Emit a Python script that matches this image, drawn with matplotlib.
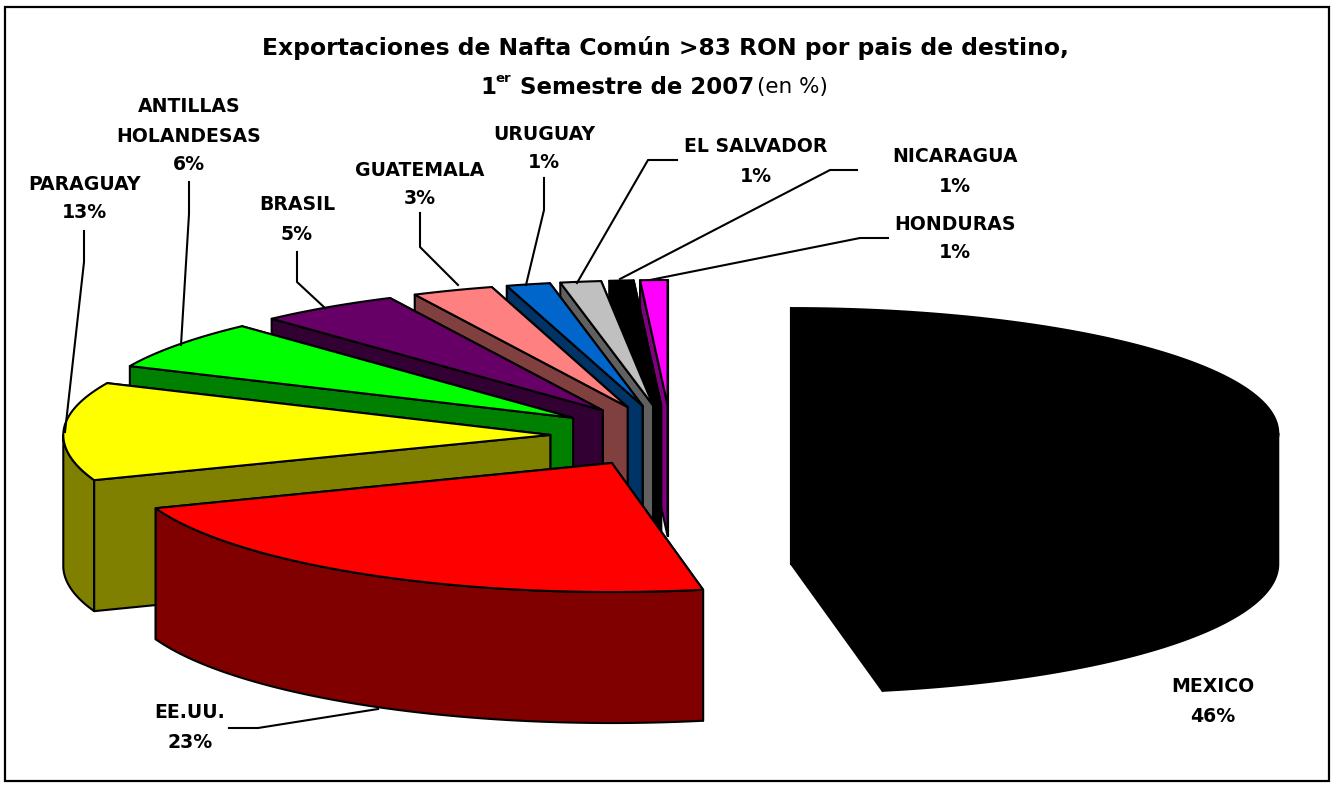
"""
Exportaciones de Nafta Comun por pais de destino: exploded 3D-look pie.
Slices are projected by hand because matplotlib has no tilted pie.
"""

import numpy as np
import matplotlib.pyplot as plt

FONT = "DejaVu Sans"

names = ["MEXICO", "EE.UU.", "PARAGUAY", "ANTILLAS\nHOLANDESAS", "BRASIL",
         "GUATEMALA", "URUGUAY", "EL SALVADOR", "NICARAGUA", "HONDURAS"]
# printed percentages
labels_pct = [46, 23, 13, 6, 5, 3, 1, 1, 1, 1]
# unrounded shares
shares = [47.0, 22.3, 12.5, 6.3, 4.7, 2.7, 1.45, 1.35, 0.8, 0.9]
top_colors = ["#000000", "#FF0000", "#FFFF00", "#00FF00", "#660066",
              "#FF8080", "#0066CC", "#C0C0C0", "#000000", "#FF00FF"]
side_colors = ["#000000", "#800000", "#808000", "#008000", "#330033",
               "#804040", "#003366", "#606060", "#000000", "#800080"]

# ---- projection of the pie, in pixels --------------------------------------
CX, CY = 671, 436
RX, RY_BACK, RY_FRONT = 487, 125, 129
DEPTH = 131
EXPLODE = 0.248
LW = 1.5

# label centres and leader lines, same order as names
label_xy = [(1213, 687), (190, 713), (84, 184), (189, 107), (297, 205),
            (420, 170), (544, 134), (756, 147), (955, 157), (955, 224)]
leaders = [None,
           [(229, 728), (258, 728), (378, 709)],
           [(84, 231), (84, 262), (65, 432)],
           [(189, 182), (189, 214), (181, 345)],
           [(297, 252), (297, 282), (325, 308)],
           [(420, 213), (420, 247), (458, 285)],
           [(544, 178), (544, 210), (526, 285)],
           [(677, 160), (648, 160), (577, 283)],
           [(857, 170), (830, 170), (620, 279)],
           [(888, 238), (860, 238), (650, 280)]]


def rim(ang, ox, oy):
    t = np.radians(ang)
    c = np.cos(t)
    ry = np.where(c >= 0, RY_BACK, RY_FRONT)
    return ox + RX * np.sin(t), oy - ry * c


def draw_slice(ax, start, end, top, side):
    mid = np.radians((start + end) / 2)
    ox = CX + EXPLODE * RX * np.sin(mid)
    oy = CY - EXPLODE * RY_BACK * np.cos(mid)

    def wall(ang):
        x, y = rim(np.array([ang]), ox, oy)
        ax.fill([ox, x[0], x[0], ox], [oy, y[0], y[0] + DEPTH, oy + DEPTH],
                fc=side, ec="black", lw=LW, joinstyle="round")

    # back facing walls first, then rim, then front facing walls
    start_front = np.sin(np.radians(start)) < 0
    end_front = np.sin(np.radians(end)) > 0
    if not start_front:
        wall(start)
    if not end_front:
        wall(end)
    lo, hi = max(start, 90), min(end, 270)
    if hi > lo:
        a = np.linspace(lo, hi, 80)
        x, y = rim(a, ox, oy)
        ax.fill(np.r_[x, x[::-1]], np.r_[y, y[::-1] + DEPTH],
                fc=side, ec="black", lw=LW, joinstyle="round")
    if start_front:
        wall(start)
    if end_front:
        wall(end)

    a = np.linspace(start, end, 120)
    x, y = rim(a, ox, oy)
    ax.fill(np.r_[ox, x], np.r_[oy, y], fc=top, ec="black", lw=LW,
            joinstyle="round")


def main():
    fig = plt.figure(figsize=(13.32, 7.87), dpi=100)
    ax = fig.add_axes([0, 0, 1, 1])
    ax.set_xlim(0, 1332)
    ax.set_ylim(787, 0)
    ax.axis("off")

    ax.add_patch(plt.Rectangle((5, 7), 1324, 774, fc="white", ec="black", lw=1.6))

    edges = np.r_[0, np.cumsum(shares)] / np.sum(shares) * 360
    order = list(range(len(shares) - 1, 0, -1)) + [0]
    for i in order:
        draw_slice(ax, edges[i], edges[i + 1], top_colors[i], side_colors[i])

    for i, name in enumerate(names):
        x, y = label_xy[i]
        lines = name.split("\n") + [f"{labels_pct[i]}%"]
        for k, line in enumerate(lines):
            ax.text(x, y + 29 * k, line, ha="center", va="center", fontsize=13.6,
                    fontweight="bold", family=FONT, color="black")
        if leaders[i]:
            px, py = zip(*leaders[i])
            ax.plot(px, py, color="black", lw=LW)

    # ---- title --------------------------------------------------------------
    ax.text(665, 48, "Exportaciones de Nafta Común >83 RON por pais de destino,",
            ha="center", va="center", fontsize=16.9, fontweight="bold", family=FONT)
    for s, x, size, weight, y in [("1", 480, 16.5, "bold", 87),
                                  ("er", 495, 9.5, "bold", 78),
                                  ("Semestre de 2007", 520, 16.5, "bold", 87),
                                  ("(en %)", 757, 15.5, "normal", 87)]:
        ax.text(x, y, s, ha="left", va="center", fontsize=size, fontweight=weight,
                family=FONT)

    fig.savefig("out.png", dpi=100)
    plt.close(fig)


if __name__ == "__main__":
    main()
